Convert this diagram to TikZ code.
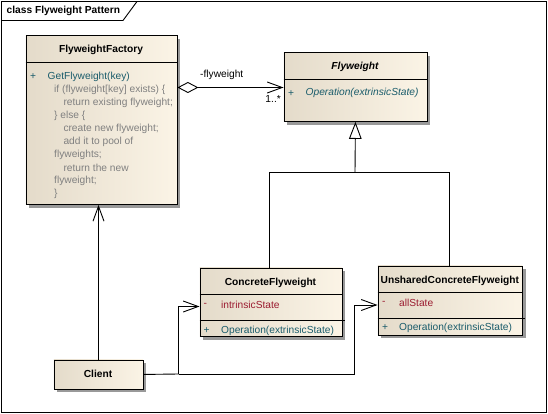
\documentclass[tikz,border=0pt]{standalone}
\usepackage{fontspec}
\setmainfont{Liberation Sans}
\usetikzlibrary{arrows.meta,shadows}
\definecolor{fillL}{RGB}{228,219,202}
\definecolor{fillR}{RGB}{251,244,230}
\definecolor{opteal}{RGB}{26,92,107}
\definecolor{attrred}{RGB}{155,27,48}
\definecolor{codegray}{RGB}{128,128,128}
\tikzset{
  cls/.style={draw=black, line width=0.9pt, left color=fillL, right color=fillR,
    shading angle=90, anchor=north west, inner sep=0pt,
    drop shadow={shadow xshift=3.5pt, shadow yshift=-3.5pt, fill=black!40, opacity=1}},
  sep/.style={draw=black, line width=0.9pt},
  cname/.style={inner sep=0pt, font=\fontsize{10.2}{12}\selectfont\bfseries},
  txt/.style={inner sep=0pt, anchor=west, font=\fontsize{10.2}{12}\selectfont},
  optxt/.style={txt, text=opteal},
  attrtxt/.style={txt, text=attrred},
  codetxt/.style={txt, text=codegray},
  conn/.style={draw=black, line width=0.9pt},
  assoc/.style={conn, -{Straight Barb[length=15pt,width=11pt,line width=0.9pt]}},
  gen/.style={conn, -{Triangle[open,length=17pt,width=12.6pt,fill=white,line width=0.9pt]}},
  aggr/.style={conn, {Diamond[open,length=21pt,width=11pt,fill=white,line width=0.9pt]}-{Straight Barb[length=15pt,width=11pt,line width=0.9pt]}},
  lbl/.style={inner sep=0pt, font=\fontsize{10.2}{12}\selectfont}
}
\begin{document}
\begin{tikzpicture}[x=1pt,y=-1pt]
\useasboundingbox (0,0) rectangle (548,414);
\fill[white] (0,0) rectangle (548,414);
% frame
\draw[line width=0.9pt] (1.5,1.5) rectangle (546,412.5);
\draw[line width=0.9pt] (1.5,20.5) -- (123,20.5) -- (137,1.5);
\node[txt, font=\fontsize{10.2}{12}\selectfont\bfseries] (title) at (6.5,11) {class Flyweight Pattern};

% FlyweightFactory
\node[cls, minimum width=151pt, minimum height=168.5pt] (factory) at (25.5,35.5) {};
\draw[sep] (factory.west |- 0,62) -- (factory.east |- 0,62);
\node[cname] (factoryname) at (101,49.5) {FlyweightFactory};
\node[optxt] (fplus) at (30,76.7) {+};
\node[optxt] (fget) at (47.5,76.7) {GetFlyweight(key)};
\node[codetxt] (c1) at (54,90) {if (flyweight[key] exists) \{};
\node[codetxt] (c2) at (63.3,102.8) {return existing flyweight;};
\node[codetxt] (c3) at (54,115.8) {\} else \{};
\node[codetxt] (c4) at (63.3,128.7) {create new flyweight;};
\node[codetxt] (c5) at (63.3,141.7) {add it to pool of};
\node[codetxt] (c6) at (54,154.7) {flyweights;};
\node[codetxt] (c7) at (63.3,167.7) {return the new};
\node[codetxt] (c8) at (54,180.8) {flyweight;};
\node[codetxt] (c9) at (54,193.5) {\}};

% Flyweight
\node[cls, minimum width=143pt, minimum height=68.5pt] (fly) at (283.5,52.5) {};
\draw[sep] (fly.west |- 0,79.5) -- (fly.east |- 0,79.5);
\node[cname, font=\fontsize{10.2}{12}\selectfont\bfseries\itshape] (flyname) at (355,66.5) {Flyweight};
\node[optxt] (flyplus) at (288,93.3) {+};
\node[optxt, font=\fontsize{10.2}{12}\selectfont\itshape] (flyop) at (305.5,93.3) {Operation(extrinsicState)};

% ConcreteFlyweight
\node[cls, minimum width=142pt, minimum height=68.5pt] (concrete) at (199.5,267.5) {};
\draw[sep] (concrete.west |- 0,294.5) -- (concrete.east |- 0,294.5);
\draw[sep] (concrete.west |- 0,320.5) -- ([xshift=2.5pt]concrete.east |- 0,320.5);
\node[cname] (concname) at (270.5,282.7) {ConcreteFlyweight};
\node[attrtxt] (cminus) at (203.5,305) {-};
\node[attrtxt] (cattr) at (221,305) {intrinsicState};
\node[optxt] (cplus) at (203.5,330.7) {+};
\node[optxt] (cop) at (221,330.7) {Operation(extrinsicState)};

% UnsharedConcreteFlyweight
\node[cls, minimum width=144.5pt, minimum height=69pt] (unshared) at (377.5,265.5) {};
\draw[sep] (unshared.west |- 0,292.5) -- (unshared.east |- 0,292.5);
\draw[sep] (unshared.west |- 0,318.5) -- ([xshift=2.5pt]unshared.east |- 0,318.5);
\node[cname] (unsname) at (449.8,280.7) {UnsharedConcreteFlyweight};
\node[attrtxt] (uminus) at (382,303) {-};
\node[attrtxt] (uattr) at (399,303) {allState};
\node[optxt] (uplus) at (382,328) {+};
\node[optxt] (uop) at (399,328) {Operation(extrinsicState)};

% Client
\node[cls, minimum width=89pt, minimum height=29pt] (client) at (53.5,359.5) {};
\node[cname] (clientname) at (98,374) {Client};

% aggregation
\draw[aggr] (factory.east |- 0,87.5) -- (fly.west |- 0,87.5);
\node[lbl, anchor=west] (rolelbl) at (200,75) {-flyweight};
\node[lbl, anchor=east] (multlbl) at (281,98.5) {1..*};

% generalization
\coordinate (gj) at (355,172);
\draw[conn] (concrete.north -| 269.5,0) |- (gj);
\draw[conn] (unshared.north -| 449.5,0) |- (gj);
\draw[gen] (gj) -- (fly.south);

% client associations
\coordinate (cj) at (178.5,374);
\coordinate (uj) at (354.5,374);
\draw[assoc] (client.north -| 98.5,0) -- (factory.south -| 98.5,0);
\draw[assoc] (client.east) -- (cj) |- (concrete.west |- 0,306.5);
\draw[assoc] (cj) -- (uj) |- (unshared.west |- 0,305);
\end{tikzpicture}
\end{document}
